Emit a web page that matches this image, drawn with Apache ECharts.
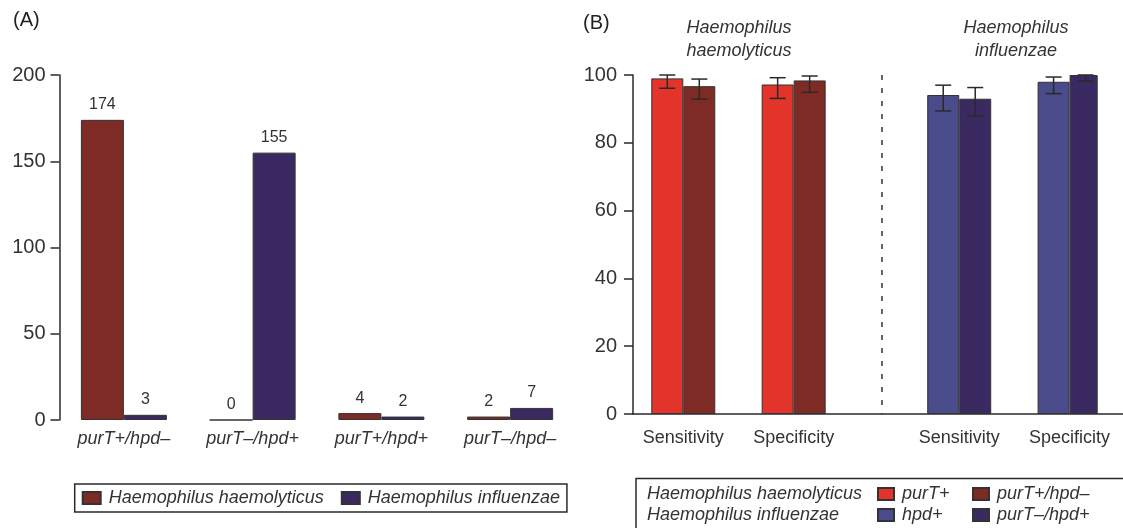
<!DOCTYPE html>
<html>
<head>
<meta charset="utf-8">
<script src="https://cdn.jsdelivr.net/npm/echarts@6/dist/echarts.min.js"></script>
<style>
  html, body { margin: 0; padding: 0; background: #fff; }
  #chart { width: 1123px; height: 528px; }
</style>
</head>
<body>
<div id="chart"></div>
<script>
// (A) 菌株数
const catsA = ['purT+/hpd–', 'purT–/hpd+', 'purT+/hpd+', 'purT–/hpd–']
const haemolyticusA = [174, 0, 4, 2]
const influenzaeA = [3, 155, 2, 7]
const ticksA = [0, 50, 100, 150, 200]

// (B) sensitivity / specificity (%)
const catsB = ['Sensitivity', 'Specificity']
const purTPlus = [99.0, 97.2]
const purTPlusLow = [96.1, 93.1]
const purTPlusHigh = [100, 99.2]
const purTPlusHpdMinus = [96.7, 98.4]
const purTPlusHpdMinusLow = [92.9, 94.9]
const purTPlusHpdMinusHigh = [98.8, 99.7]
const hpdPlus = [94.1, 98.0]
const hpdPlusLow = [89.4, 94.5]
const hpdPlusHigh = [97.0, 99.4]
const purTMinusHpdPlus = [93.0, 100]
const purTMinusHpdPlusLow = [87.9, 98.2]
const purTMinusHpdPlusHigh = [96.3, 100]
const ticksB = [0, 20, 40, 60, 80, 100]

const FONT = '"Liberation Sans", Arial, sans-serif'
const RED = '#e3342c'
const DARKRED = '#7e2a25'
const BLUE = '#4a4b8a'
const PURPLE = '#3b2a62'
const INK = '#2a2a2a'

// panel B: the two groups sit on a 9 slot category axis (gaps between them)
const SLOT_COUNT = 9
const slotsH = [1, 3] // haemolyticus: Sensitivity, Specificity
const slotsI = [6, 8] // influenzae
const DIVIDER_SLOT = 4
const DIVIDER_SHIFT = 0.6 // 相对 slot 4 中心偏移 (band 宽度的倍数)
const BAR_B = 32

function placed (slots, vals) {
  let arr = new Array(SLOT_COUNT).fill('-')
  slots.forEach((s, i) => { arr[s] = vals[i] })
  return arr
}
let slotLabels = new Array(SLOT_COUNT).fill('')
slotsH.forEach((s, i) => { slotLabels[s] = catsB[i] })
slotsI.forEach((s, i) => { slotLabels[s] = catsB[i] })

// error bars: [slot, low, high, side]
let errData = []
function addErr (slots, low, high, side) {
  slots.forEach((s, i) => errData.push([s, low[i], high[i], side]))
}
addErr(slotsH, purTPlusLow, purTPlusHigh, -1)
addErr(slotsH, purTPlusHpdMinusLow, purTPlusHpdMinusHigh, 1)
addErr(slotsI, hpdPlusLow, hpdPlusHigh, -1)
addErr(slotsI, purTMinusHpdPlusLow, purTMinusHpdPlusHigh, 1)

const barBorder = { borderColor: '#333', borderWidth: 1 }
const legendText = { fontSize: 18, fontStyle: 'italic', color: '#333', fontFamily: FONT, lineHeight: 20, padding: [0, 0, 0, 3] }

let myChart = echarts.init(document.getElementById('chart'), null, { renderer: 'canvas' })
let option = {
  backgroundColor: '#ffffff',
  animation: false,
  textStyle: { fontFamily: FONT },
  grid: [
    { left: 59.5, width: 515, top: 75, bottom: 108 }, // A
    { left: 633, right: 0, top: 75, bottom: 114 }, // B 坐标轴
    { left: 600.5, width: 496.7, top: 75, bottom: 114 } // B 柱子
  ],
  xAxis: [
    {
      gridIndex: 0,
      type: 'category',
      data: catsA,
      axisLine: { show: false },
      axisTick: { show: false },
      axisLabel: { fontSize: 18, fontStyle: 'italic', color: '#333', margin: 10, fontFamily: FONT }
    },
    {
      gridIndex: 1,
      type: 'value',
      min: 0,
      max: 1,
      axisLine: { show: true, lineStyle: { color: INK, width: 1.5 } },
      axisTick: { show: false },
      axisLabel: { show: false },
      splitLine: { show: false }
    },
    {
      gridIndex: 2,
      type: 'category',
      data: slotLabels,
      axisLine: { show: false },
      axisTick: { show: false },
      axisLabel: { interval: 0, fontSize: 18, color: '#333', margin: 15, fontFamily: FONT }
    }
  ],
  yAxis: [
    {
      gridIndex: 0,
      type: 'value',
      min: ticksA[0],
      max: ticksA[ticksA.length - 1],
      interval: ticksA[1] - ticksA[0],
      axisLine: { show: true, lineStyle: { color: INK, width: 1.5 } },
      axisTick: { show: true, length: 9, lineStyle: { color: INK, width: 1.5 } },
      axisLabel: { fontSize: 20, color: '#333', margin: 14, fontFamily: FONT },
      splitLine: { show: false }
    },
    {
      gridIndex: 1,
      type: 'value',
      min: ticksB[0],
      max: ticksB[ticksB.length - 1],
      interval: ticksB[1] - ticksB[0],
      axisLine: { show: true, lineStyle: { color: INK, width: 1.5 } },
      axisTick: { show: true, length: 9, lineStyle: { color: INK, width: 1.5 } },
      axisLabel: { fontSize: 20, color: '#333', margin: 16, fontFamily: FONT },
      splitLine: { show: false }
    },
    {
      gridIndex: 2,
      type: 'value',
      min: ticksB[0],
      max: ticksB[ticksB.length - 1],
      show: false
    }
  ],
  legend: [
    {
      data: ['Haemophilus haemolyticus', 'Haemophilus influenzae'],
      left: 74.7,
      top: 484,
      orient: 'horizontal',
      icon: 'rect',
      itemWidth: 18,
      itemHeight: 12,
      itemGap: 17,
      padding: [4, 7],
      borderColor: INK,
      borderWidth: 1.5,
      textStyle: legendText
    },
    {
      data: ['purT+', 'hpd+'],
      left: 877,
      top: 484,
      orient: 'vertical',
      icon: 'rect',
      itemWidth: 16,
      itemHeight: 12,
      itemGap: 1,
      padding: 0,
      textStyle: legendText
    },
    {
      data: ['purT+/hpd–', 'purT–/hpd+'],
      left: 972,
      top: 484,
      orient: 'vertical',
      icon: 'rect',
      itemWidth: 16,
      itemHeight: 12,
      itemGap: 1,
      padding: 0,
      textStyle: legendText
    }
  ],
  graphic: [
    { type: 'text', left: 13, top: 10, style: { text: '(A)', fontSize: 20, fill: '#222', fontFamily: FONT } },
    { type: 'text', left: 583, top: 13, style: { text: '(B)', fontSize: 20, fill: '#222', fontFamily: FONT } },
    {
      type: 'text', x: 739, y: 39,
      style: { text: 'Haemophilus\nhaemolyticus', fontSize: 18, fontStyle: 'italic', fill: '#333', fontFamily: FONT, align: 'center', verticalAlign: 'middle', lineHeight: 23 }
    },
    {
      type: 'text', x: 1016, y: 39,
      style: { text: 'Haemophilus\ninfluenzae', fontSize: 18, fontStyle: 'italic', fill: '#333', fontFamily: FONT, align: 'center', verticalAlign: 'middle', lineHeight: 23 }
    },
    // 图例B 外框 + 行名
    { type: 'rect', shape: { x: 636, y: 478.5, width: 600, height: 100 }, style: { fill: 'none', stroke: INK, lineWidth: 1.5 } },
    { type: 'text', x: 647, y: 494, style: { text: 'Haemophilus haemolyticus', fontSize: 18, fontStyle: 'italic', fill: '#333', fontFamily: FONT, verticalAlign: 'middle' } },
    { type: 'text', x: 647, y: 515, style: { text: 'Haemophilus influenzae', fontSize: 18, fontStyle: 'italic', fill: '#333', fontFamily: FONT, verticalAlign: 'middle' } }
  ],
  series: [
    {
      name: 'Haemophilus haemolyticus',
      type: 'bar',
      xAxisIndex: 0,
      yAxisIndex: 0,
      barWidth: 43,
      barGap: '0%',
      itemStyle: Object.assign({ color: DARKRED }, barBorder),
      label: { show: true, position: 'top', distance: 7, fontSize: 16, color: '#333', fontFamily: FONT },
      data: haemolyticusA
    },
    {
      name: 'Haemophilus influenzae',
      type: 'bar',
      xAxisIndex: 0,
      yAxisIndex: 0,
      barWidth: 43,
      barGap: '0%',
      itemStyle: Object.assign({ color: PURPLE }, barBorder),
      label: { show: true, position: 'top', distance: 7, fontSize: 16, color: '#333', fontFamily: FONT },
      data: influenzaeA
    },
    {
      name: 'purT+',
      type: 'bar',
      xAxisIndex: 2,
      yAxisIndex: 2,
      stack: 'left',
      barWidth: BAR_B,
      barGap: '0%',
      itemStyle: Object.assign({ color: RED }, barBorder),
      data: placed(slotsH, purTPlus)
    },
    {
      name: 'purT+/hpd–',
      type: 'bar',
      xAxisIndex: 2,
      yAxisIndex: 2,
      stack: 'right',
      barWidth: BAR_B,
      barGap: '0%',
      itemStyle: Object.assign({ color: DARKRED }, barBorder),
      data: placed(slotsH, purTPlusHpdMinus)
    },
    {
      name: 'hpd+',
      type: 'bar',
      xAxisIndex: 2,
      yAxisIndex: 2,
      stack: 'left',
      barWidth: BAR_B,
      barGap: '0%',
      itemStyle: Object.assign({ color: BLUE }, barBorder),
      data: placed(slotsI, hpdPlus)
    },
    {
      name: 'purT–/hpd+',
      type: 'bar',
      xAxisIndex: 2,
      yAxisIndex: 2,
      stack: 'right',
      barWidth: BAR_B,
      barGap: '0%',
      itemStyle: Object.assign({ color: PURPLE }, barBorder),
      data: placed(slotsI, purTMinusHpdPlus)
    },
    {
      // 误差线
      type: 'custom',
      xAxisIndex: 2,
      yAxisIndex: 2,
      z: 5,
      data: errData,
      renderItem (params, api) {
        let x = api.coord([api.value(0), 0])[0] + api.value(3) * BAR_B / 2
        let yLo = api.coord([api.value(0), api.value(1)])[1]
        let yHi = api.coord([api.value(0), api.value(2)])[1]
        let st = { stroke: INK, lineWidth: 1.5 }
        return {
          type: 'group',
          children: [
            { type: 'line', shape: { x1: x, y1: yLo, x2: x, y2: yHi }, style: st },
            { type: 'line', shape: { x1: x - 8, y1: yLo, x2: x + 8, y2: yLo }, style: st },
            { type: 'line', shape: { x1: x - 8, y1: yHi, x2: x + 8, y2: yHi }, style: st }
          ]
        }
      }
    },
    {
      // 分隔虚线
      type: 'custom',
      xAxisIndex: 2,
      yAxisIndex: 2,
      data: [[DIVIDER_SLOT]],
      renderItem (params, api) {
        let band = api.size([1, 0])[0]
        let top = api.coord([api.value(0), ticksB[ticksB.length - 1]])
        let bottom = api.coord([api.value(0), ticksB[0]])
        let x = top[0] + band * DIVIDER_SHIFT
        return {
          type: 'line',
          shape: { x1: x, y1: top[1], x2: x, y2: bottom[1] },
          style: { stroke: '#333', lineWidth: 1.5, lineDash: [5, 8] }
        }
      }
    }
  ]
}
myChart.setOption(option)
</script>
</body>
</html>
